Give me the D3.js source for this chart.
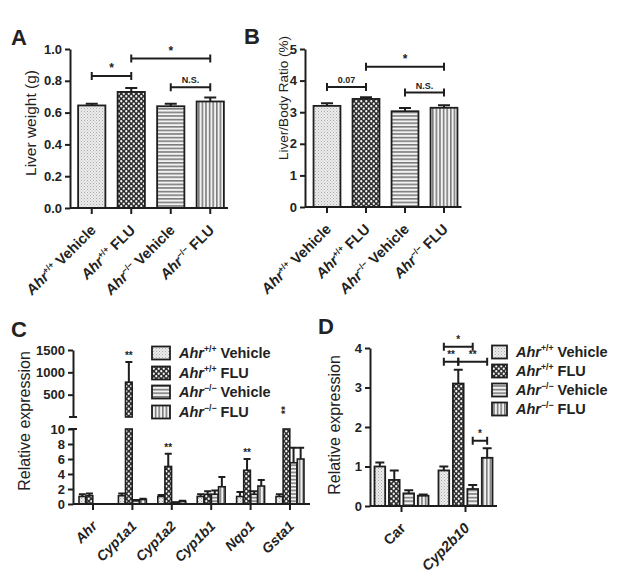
<!DOCTYPE html>
<html><head><meta charset="utf-8">
<script src="https://cdn.jsdelivr.net/npm/d3@7"></script>
<style>
body{margin:0;background:#fff}
svg{display:block}
text{font-family:"Liberation Sans",Arial,Helvetica,sans-serif;fill:#222}
</style>
</head><body>
<svg id="c" width="627" height="585"></svg>
<script>
// ---------------- data ----------------
const groupGeno  = ["+/+", "+/+", "\u2212/\u2212", "\u2212/\u2212"];
const groupTreat = ["Vehicle", "FLU", "Vehicle", "FLU"];

// Panel A: liver weight (g)
const liverWeight    = [0.645, 0.73, 0.64, 0.67];
const liverWeightErr = [0.01, 0.025, 0.015, 0.025];
const weightTicks    = [0, 0.2, 0.4, 0.6, 0.8, 1.0];
const weightSig = [
  {a: 0, b: 1, y: 0.83, label: "*"},
  {a: 1, b: 3, y: 0.94, label: "*"},
  {a: 2, b: 3, y: 0.76, label: "N.S."}
];

// Panel B: liver/body ratio (%)
const liverRatio    = [3.2, 3.42, 3.03, 3.14];
const liverRatioErr = [0.08, 0.05, 0.1, 0.08];
const ratioTicks    = [0, 1, 2, 3, 4, 5];
const ratioSig = [
  {a: 0, b: 1, y: 3.8, label: "0.07"},
  {a: 1, b: 3, y: 4.44, label: "*"},
  {a: 2, b: 3, y: 3.62, label: "N.S."}
];

// Panel C: relative expression
const genesC = ["Ahr", "Cyp1a1", "Cyp1a2", "Cyp1b1", "Nqo1", "Gsta1"];
const cWtVeh    = [1.0, 1.1, 1.0, 1.0, 1.0, 1.0];
const cWtVehErr = [0.3, 0.3, 0.2, 0.3, 0.6, 0.3];
const cWtFlu    = [1.1, 780, 5.0, 1.3, 4.5, 14];
const cWtFluErr = [0.3, 450, 1.7, 0.4, 1.5, 0];
const cKoVeh    = [0.02, 0.45, 0.2, 1.3, 1.3, 5.5];
const cKoVehErr = [0, 0.1, 0.05, 0.5, 0.4, 2.0];
const cKoFlu    = [0.02, 0.6, 0.35, 2.3, 2.4, 6.0];
const cKoFluErr = [0, 0.1, 0.08, 1.3, 0.8, 1.5];
const cStars    = ["", "**", "**", "", "**", "**"];   // over WT FLU bar
const cLowTicks = [0, 2, 4, 6, 8, 10];
const cHighTicks = [500, 1000, 1500];

// Panel D: relative expression
const genesD = ["Car", "Cyp2b10"];
const genesDItalic = [false, true];
const dWtVeh    = [1.0, 0.9];
const dWtVehErr = [0.1, 0.1];
const dWtFlu    = [0.66, 3.1];
const dWtFluErr = [0.24, 0.35];
const dKoVeh    = [0.32, 0.43];
const dKoVehErr = [0.08, 0.1];
const dKoFlu    = [0.26, 1.22];
const dKoFluErr = [0.03, 0.24];
const dTicks    = [0, 1, 2, 3, 4];
const dSig = [
  {a: 0, b: 2, y: 4.03, label: "*"},
  {a: 0, b: 1, y: 3.65, label: "**"},
  {a: 1, b: 3, y: 3.65, label: "**"},
  {a: 2, b: 3, y: 1.65, label: "*"}
];

// ---------------- drawing ----------------
const ink = "#1e1e1e";
const svg = d3.select("#c");
const defs = svg.append("defs");

// pattern 0: light stipple
{
  const p = defs.append("pattern").attr("id", "p0").attr("patternUnits", "userSpaceOnUse").attr("width", 3).attr("height", 3);
  p.append("rect").attr("width", 3).attr("height", 3).attr("fill", "#ececec");
  p.append("rect").attr("x", 0).attr("y", 0).attr("width", 1).attr("height", 1).attr("fill", "#a9a9a9");
  p.append("rect").attr("x", 1.5).attr("y", 1.5).attr("width", 1).attr("height", 1).attr("fill", "#bcbcbc");
}
// pattern 1: dark checker with white dots
{
  const p = defs.append("pattern").attr("id", "p1").attr("patternUnits", "userSpaceOnUse").attr("width", 5).attr("height", 5);
  p.append("rect").attr("width", 5).attr("height", 5).attr("fill", "#2e2e2e");
  p.append("circle").attr("cx", 1.25).attr("cy", 1.25).attr("r", 1.15).attr("fill", "#f4f4f4");
  p.append("circle").attr("cx", 3.75).attr("cy", 3.75).attr("r", 1.15).attr("fill", "#f4f4f4");
}
// pattern 2: horizontal stripes
{
  const p = defs.append("pattern").attr("id", "p2").attr("patternUnits", "userSpaceOnUse").attr("width", 4).attr("height", 3.6);
  p.append("rect").attr("width", 4).attr("height", 3.6).attr("fill", "#f2f2f2");
  p.append("rect").attr("y", 0).attr("width", 4).attr("height", 1.6).attr("fill", "#7d7d7d");
}
// pattern 3: vertical stripes
{
  const p = defs.append("pattern").attr("id", "p3").attr("patternUnits", "userSpaceOnUse").attr("width", 3.6).attr("height", 4);
  p.append("rect").attr("width", 3.6).attr("height", 4).attr("fill", "#f2f2f2");
  p.append("rect").attr("x", 0).attr("width", 1.6).attr("height", 4).attr("fill", "#7d7d7d");
}

function groupLabel(textSel, geno, treat, size) {
  textSel.append("tspan").attr("font-style", "italic").text("Ahr");
  textSel.append("tspan").attr("font-size", size * 0.6).attr("dy", -size * 0.38).text(geno);
  textSel.append("tspan").attr("dy", size * 0.38).text(" " + treat);
}

function bracket(g, x1, x2, yy, label, fs) {
  g.append("path")
    .attr("d", `M${x1},${yy - 4}V${yy + 4}M${x1},${yy}H${x2}M${x2},${yy - 4}V${yy + 4}`)
    .attr("stroke", ink).attr("stroke-width", 2).attr("fill", "none");
  g.append("text").attr("x", (x1 + x2) / 2).attr("y", yy - 4)
    .attr("text-anchor", "middle").attr("font-size", fs).attr("font-weight", "bold")
    .text(label);
}

function styleAxis(ax) {
  ax.selectAll("path.domain").attr("stroke", ink).attr("stroke-width", 2);
  ax.selectAll(".tick line").attr("stroke", ink).attr("stroke-width", 2);
  ax.selectAll(".tick text").attr("font-size", 13).attr("font-weight", "bold")
    .attr("font-family", "Liberation Sans, Arial, sans-serif").attr("fill", "#2a2a2a");
}

function simplePanel(o) {
  const g = svg.append("g");
  const y = d3.scaleLinear().domain(o.domain).range([o.yBottom, o.yTop]);
  const x = d3.scaleBand().domain(d3.range(o.values.length))
    .range([o.xStart, o.xEnd]).paddingInner(0.31).paddingOuter(0.155);
  const bw = x.bandwidth();

  g.selectAll("rect.bar").data(o.values).join("rect").attr("class", "bar")
    .attr("x", (d, i) => x(i)).attr("y", d => y(d))
    .attr("width", bw).attr("height", d => y(0) - y(d))
    .attr("fill", (d, i) => `url(#p${i})`).attr("stroke", ink).attr("stroke-width", 1.8);

  g.selectAll("path.err").data(o.values).join("path").attr("class", "err")
    .attr("d", (d, i) => {
      const cx = x(i) + bw / 2, y0 = y(d), y1 = y(d + o.errs[i]);
      return `M${cx},${y0}V${y1}M${cx - 6},${y1}H${cx + 6}`;
    })
    .attr("stroke", ink).attr("stroke-width", 2).attr("fill", "none");

  const ay = g.append("g").attr("transform", `translate(${o.axisX},0)`)
    .call(d3.axisLeft(y).tickValues(o.ticks).tickFormat(o.fmt).tickSize(5).tickPadding(3).tickSizeOuter(0));
  styleAxis(ay);

  const ax = g.append("g").attr("transform", `translate(0,${o.yBottom})`)
    .call(d3.axisBottom(x).tickSize(6).tickFormat("").tickSizeOuter(0));
  ax.select("path.domain").remove();
  ax.selectAll(".tick line").attr("stroke", ink).attr("stroke-width", 2);
  g.append("line").attr("x1", o.axisX).attr("x2", o.xEnd - 2).attr("y1", o.yBottom).attr("y2", o.yBottom)
    .attr("stroke", ink).attr("stroke-width", 2);

  o.values.forEach((d, i) => {
    const t = g.append("text")
      .attr("transform", `translate(${x(i) + bw / 2 + 5},${o.yBottom + 23}) rotate(-45)`)
      .attr("text-anchor", "end").attr("font-size", 14.5).attr("font-weight", "bold");
    groupLabel(t, groupGeno[i], groupTreat[i], 14.5);
  });

  o.sig.forEach(s => bracket(g, x(s.a) + bw / 2, x(s.b) + bw / 2, y(s.y), s.label, s.label === "*" ? 12 : 9));

  g.append("text").attr("transform", `translate(${o.ylabelX},${o.ylabelY}) rotate(-90)`)
    .attr("text-anchor", "middle").attr("font-size", o.ylabelSize).text(o.ylabel);
  g.append("text").attr("x", o.letterX).attr("y", o.letterY).attr("font-size", 22)
    .attr("font-weight", "bold").attr("fill", "#111").text(o.letter);
}

simplePanel({
  values: liverWeight, errs: liverWeightErr, domain: [0, 1], ticks: weightTicks, fmt: d3.format(".1f"),
  yBottom: 208, yTop: 49, xStart: 72, xEnd: 230, axisX: 70, sig: weightSig,
  ylabel: "Liver weight (g)", ylabelX: 36, ylabelY: 123, ylabelSize: 15.5,
  letter: "A", letterX: 11, letterY: 45
});
simplePanel({
  values: liverRatio, errs: liverRatioErr, domain: [0, 5], ticks: ratioTicks, fmt: d3.format("d"),
  yBottom: 207, yTop: 49, xStart: 307.5, xEnd: 463.5, axisX: 305, sig: ratioSig,
  ylabel: "Liver/Body Ratio (%)", ylabelX: 288, ylabelY: 98, ylabelSize: 13.5,
  letter: "B", letterX: 244, letterY: 44
});

function legend(g, x0, rows, bw) {
  rows.forEach((cy, i) => {
    g.append("rect").attr("x", x0).attr("y", cy - 6.5).attr("width", bw).attr("height", 13)
      .attr("fill", `url(#p${i})`).attr("stroke", ink).attr("stroke-width", 1.8);
    const t = g.append("text").attr("x", x0 + bw + 9).attr("y", cy + 5)
      .attr("font-size", 14.5).attr("font-weight", "bold");
    groupLabel(t, groupGeno[i], groupTreat[i], 14.5);
  });
}

// ---------------- Panel C ----------------
{
  const g = svg.append("g");
  const series = [cWtVeh, cWtFlu, cKoVeh, cKoFlu];
  const errs = [cWtVehErr, cWtFluErr, cKoVehErr, cKoFluErr];
  const axisX = 73;
  const yLo = d3.scaleLinear().domain([0, 10]).range([504, 429]);
  const yHi = d3.scaleLinear().domain([0, 1500]).range([417, 350]);
  const x = d3.scaleBand().domain(genesC).range([73.3, 309.7]).paddingInner(0.29).paddingOuter(0.145);
  const xi = d3.scaleBand().domain(d3.range(4)).range([0, x.bandwidth()]).paddingInner(0.06);
  const bw = xi.bandwidth();

  series.forEach((vals, s) => {
    vals.forEach((v, gi) => {
      const bx = x(genesC[gi]) + xi(s);
      const cx = bx + bw / 2;
      const vLo = Math.min(v, 10);
      g.append("rect").attr("x", bx).attr("y", yLo(vLo)).attr("width", bw)
        .attr("height", Math.max(0.01, yLo(0) - yLo(vLo)))
        .attr("fill", `url(#p${s})`).attr("stroke", ink).attr("stroke-width", 1.6);
      const e = errs[s][gi];
      if (v > 10 && yHi(v) < 414) {
        g.append("rect").attr("x", bx).attr("y", yHi(v)).attr("width", bw)
          .attr("height", yHi(0) - yHi(v))
          .attr("fill", `url(#p${s})`).attr("stroke", ink).attr("stroke-width", 1.6);
        if (e > 0) {
          g.append("path").attr("d", `M${cx},${yHi(v)}V${yHi(v + e)}M${cx - 3.5},${yHi(v + e)}H${cx + 3.5}`)
            .attr("stroke", ink).attr("stroke-width", 2).attr("fill", "none");
        }
      } else if (e > 0 && v + e <= 10) {
        g.append("path").attr("d", `M${cx},${yLo(v)}V${yLo(v + e)}M${cx - 3.5},${yLo(v + e)}H${cx + 3.5}`)
          .attr("stroke", ink).attr("stroke-width", 2).attr("fill", "none");
      }
      if (s === 1 && cStars[gi]) {
        let sy;
        if (v > 10 && yHi(v) < 414) sy = yHi(v + e) - 3;
        else if (v > 10) sy = null;
        else sy = yLo(v + e) - 3;
        if (sy !== null) {
          g.append("text").attr("x", cx).attr("y", sy).attr("text-anchor", "middle")
            .attr("font-size", 10).attr("font-weight", "bold").text(cStars[gi]);
        } else {
          g.append("text").attr("transform", `translate(${cx + 3},${414}) rotate(-90)`)
            .attr("text-anchor", "start").attr("font-size", 10).attr("font-weight", "bold").text(cStars[gi]);
        }
      }
    });
  });

  const a1 = g.append("g").attr("transform", `translate(${axisX},0)`)
    .call(d3.axisLeft(yLo).tickValues(cLowTicks).tickFormat(d3.format("d")).tickSize(5).tickPadding(3).tickSizeOuter(0));
  styleAxis(a1);
  const a2 = g.append("g").attr("transform", `translate(${axisX},0)`)
    .call(d3.axisLeft(yHi).tickValues(cHighTicks).tickFormat(d3.format("d")).tickSize(5).tickPadding(3).tickSizeOuter(0));
  styleAxis(a2);
  // break caps
  g.append("path").attr("d", `M${axisX - 4},417H${axisX + 4}M${axisX - 4},${yLo(10)}H${axisX + 4}`)
    .attr("stroke", ink).attr("stroke-width", 2);

  const ax = g.append("g").attr("transform", "translate(0,504)")
    .call(d3.axisBottom(x).tickSize(6).tickFormat("").tickSizeOuter(0));
  ax.select("path.domain").remove();
  ax.selectAll(".tick line").attr("stroke", ink).attr("stroke-width", 2);
  g.append("line").attr("x1", axisX).attr("x2", 310).attr("y1", 504).attr("y2", 504)
    .attr("stroke", ink).attr("stroke-width", 2);

  genesC.forEach(name => {
    g.append("text")
      .attr("transform", `translate(${x(name) + x.bandwidth() / 2 + 5},${527}) rotate(-45)`)
      .attr("text-anchor", "end").attr("font-size", 14).attr("font-weight", "bold")
      .attr("font-style", "italic").text(name);
  });

  g.append("text").attr("transform", "translate(30,421) rotate(-90)")
    .attr("text-anchor", "middle").attr("font-size", 16).text("Relative expression");
  g.append("text").attr("x", 11).attr("y", 337).attr("font-size", 22).attr("font-weight", "bold")
    .attr("fill", "#111").text("C");
  legend(g, 152, [353, 373, 392, 412], 18);
}

// ---------------- Panel D ----------------
{
  const g = svg.append("g");
  const series = [dWtVeh, dWtFlu, dKoVeh, dKoFlu];
  const errs = [dWtVehErr, dWtFluErr, dKoVehErr, dKoFluErr];
  const axisX = 370;
  const y = d3.scaleLinear().domain([0, 4]).range([506, 348]);
  const x = d3.scaleBand().domain(genesD).range([369.5, 497.5]).paddingInner(0.156).paddingOuter(0.078);
  const xi = d3.scaleBand().domain(d3.range(4)).range([0, x.bandwidth()]).paddingInner(0.26).paddingOuter(0.0);
  const bw = xi.bandwidth();

  series.forEach((vals, s) => {
    vals.forEach((v, gi) => {
      const bx = x(genesD[gi]) + xi(s), cx = bx + bw / 2;
      g.append("rect").attr("x", bx).attr("y", y(v)).attr("width", bw).attr("height", y(0) - y(v))
        .attr("fill", `url(#p${s})`).attr("stroke", ink).attr("stroke-width", 1.8);
      const e = errs[s][gi];
      g.append("path").attr("d", `M${cx},${y(v)}V${y(v + e)}M${cx - 4.5},${y(v + e)}H${cx + 4.5}`)
        .attr("stroke", ink).attr("stroke-width", 2).attr("fill", "none");
    });
  });

  const ay = g.append("g").attr("transform", `translate(${axisX},0)`)
    .call(d3.axisLeft(y).tickValues(dTicks).tickFormat(d3.format("d")).tickSize(5).tickPadding(3).tickSizeOuter(0));
  styleAxis(ay);
  const ax = g.append("g").attr("transform", "translate(0,506)")
    .call(d3.axisBottom(x).tickSize(6).tickFormat("").tickSizeOuter(0));
  ax.select("path.domain").remove();
  ax.selectAll(".tick line").attr("stroke", ink).attr("stroke-width", 2);
  g.append("line").attr("x1", axisX).attr("x2", 497).attr("y1", 506).attr("y2", 506)
    .attr("stroke", ink).attr("stroke-width", 2);

  genesD.forEach((name, i) => {
    g.append("text")
      .attr("transform", `translate(${x(name) + x.bandwidth() / 2 + 5},${529}) rotate(-45)`)
      .attr("text-anchor", "end").attr("font-size", 14.5).attr("font-weight", "bold")
      .attr("font-style", genesDItalic[i] ? "italic" : "normal")
      .text(name);
  });

  const cyp = genesD[1];
  dSig.forEach(s => {
    const x1 = x(cyp) + xi(s.a) + bw / 2, x2 = x(cyp) + xi(s.b) + bw / 2;
    bracket(g, x1, x2, y(s.y), s.label, 10);
  });

  g.append("text").attr("transform", "translate(340,425) rotate(-90)")
    .attr("text-anchor", "middle").attr("font-size", 16).text("Relative expression");
  g.append("text").attr("x", 318).attr("y", 334).attr("font-size", 22).attr("font-weight", "bold")
    .attr("fill", "#111").text("D");
  legend(g, 492, [352, 371, 390, 409], 15);
}
</script>
</body></html>
